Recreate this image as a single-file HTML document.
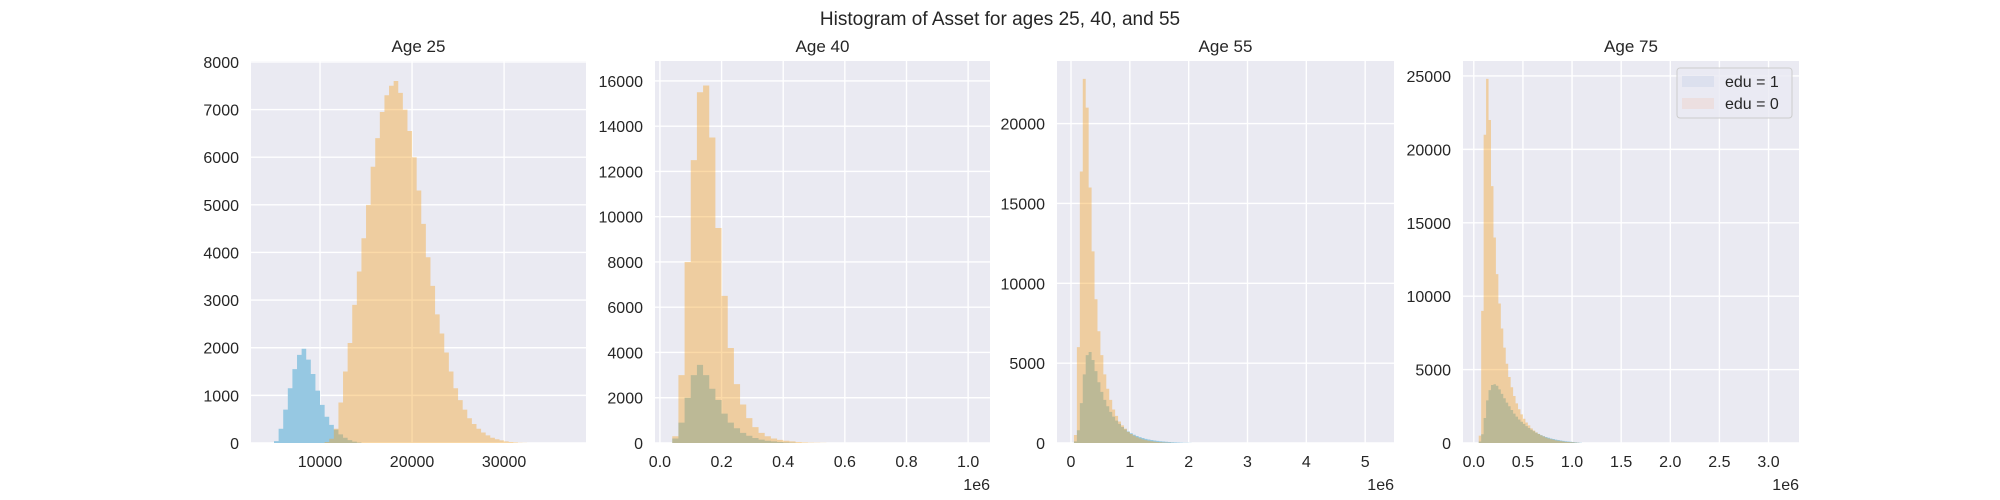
<!DOCTYPE html>
<html><head><meta charset="utf-8"><style>
html,body{margin:0;padding:0;background:#fff;}
svg{display:block;font-family:"Liberation Sans","DejaVu Sans",sans-serif;}
</style></head><body>
<svg id="fig" width="2000" height="500" viewBox="0 0 2000 500">
<text x="1000" y="25" text-anchor="middle" font-size="19" fill="#262626">Histogram of Asset for ages 25, 40, and 55</text>
</svg>
<script>
// ---- Data (bin starts, bin width, counts) ----
const p1Start0 = 10000, p1W = 500;
const p1Edu0 = [0,20,90,300,850,1500,2100,2900,3600,4300,5000,5800,6400,6950,7300,7500,7600,7350,7000,6550,6000,5300,4600,3900,3300,2700,2300,1900,1500,1150,900,700,520,400,300,220,160,110,80,55,35,20,12,6,3,0];
const p1Start1 = 4500;
const p1Edu1 = [0,40,300,700,1150,1550,1850,1980,1750,1450,1100,800,550,380,280,180,110,60,30,10,0];

const p2Start = 0.04, p2W = 0.02;
const p2Edu0 = [300,3000,8000,12500,15500,15800,13500,9500,6500,4200,2600,1700,1100,700,450,300,200,140,100,70,45,30,18,10,5,0];
const p2Edu1 = [200,900,2000,3000,3450,3000,2400,1900,1300,900,650,450,320,220,150,100,70,45,30,15,0];

const p3Start = 0.05, p3W = 0.05;
const p3Edu0 = [500,6000,17000,22800,21000,16000,12000,9000,7000,5500,4300,3400,2700,2100,1700,1350,1100,900,700,560,450,360,290,230,180,140,110,85,65,50,35,25,15,8,0];
const p3Edu1 = [100,800,2500,4300,5500,5700,5200,4500,3800,3200,2700,2300,1950,1650,1400,1200,1000,850,720,610,520,440,370,310,260,220,185,155,130,110,90,75,62,50,40,32,25,19,14,10,0];

const p4Start = 0.05, p4W = 0.025;
const p4Edu0 = [500,9000,21000,24800,22000,17500,14000,11500,9500,7800,6500,5400,4500,3800,3200,2700,2300,1950,1650,1400,1200,1000,850,720,610,520,440,370,310,260,220,180,150,125,100,80,65,50,40,25,15,0];
const p4Edu1 = [100,600,1700,2900,3600,3950,4000,3900,3650,3350,3050,2750,2500,2250,2000,1800,1600,1450,1300,1150,1020,900,800,700,620,540,470,410,360,310,270,230,200,170,145,120,100,85,70,50,35,20,0];

const titles = ["Age 25","Age 40","Age 55","Age 75"];
const xTicks1 = [10000,20000,30000];
const xTicks2 = [0,0.2,0.4,0.6,0.8,1.0];
const xTicks3 = [0,1,2,3,4,5];
const xTicks4 = [0,0.5,1.0,1.5,2.0,2.5,3.0];
const yTicks1 = [0,1000,2000,3000,4000,5000,6000,7000,8000];
const yTicks2 = [0,2000,4000,6000,8000,10000,12000,14000,16000];
const yTicks3 = [0,5000,10000,15000,20000];
const yTicks4 = [0,5000,10000,15000,20000,25000];

const NS = "http://www.w3.org/2000/svg";
const svg = document.getElementById('fig');
function mk(tag, attrs, parent){
  const e = document.createElementNS(NS, tag);
  for (const k in attrs) e.setAttribute(k, attrs[k]);
  (parent||svg).appendChild(e);
  return e;
}
const panels = [
  {l:251,r:586,xmin:2500,xmax:38900,ymax:8020,xt:xTicks1,yt:yTicks1,fmt:v=>String(v),e0:[p1Start0,p1W,p1Edu0],e1:[p1Start1,p1W,p1Edu1],sci:false},
  {l:655,r:990,xmin:-0.016,xmax:1.071,ymax:16880,xt:xTicks2,yt:yTicks2,fmt:v=>v.toFixed(1),e0:[p2Start,p2W,p2Edu0],e1:[p2Start,p2W,p2Edu1],sci:true},
  {l:1057,r:1394,xmin:-0.238,xmax:5.49,ymax:23920,xt:xTicks3,yt:yTicks3,fmt:v=>String(v),e0:[p3Start,p3W,p3Edu0],e1:[p3Start,p3W,p3Edu1],sci:true},
  {l:1463,r:1799,xmin:-0.11,xmax:3.31,ymax:26020,xt:xTicks4,yt:yTicks4,fmt:v=>v.toFixed(1),e0:[p4Start,p4W,p4Edu0],e1:[p4Start,p4W,p4Edu1],sci:true}
];
const plotTop = 61, plotBot = 443;
function stepPath(sx, sy, spec){
  const [start,w,counts] = spec;
  let d = "M"+sx(start).toFixed(2)+","+sy(0).toFixed(2);
  counts.forEach((c,i)=>{
    const x0 = sx(start+i*w), x1 = sx(start+(i+1)*w), y = sy(c);
    d += " L"+x0.toFixed(2)+","+y.toFixed(2)+" L"+x1.toFixed(2)+","+y.toFixed(2);
  });
  d += " L"+sx(start+counts.length*w).toFixed(2)+","+sy(0).toFixed(2)+" Z";
  return d;
}
panels.forEach((p,i)=>{
  const g = mk('g',{});
  
  
  const sx = v => p.l + (v-p.xmin)/(p.xmax-p.xmin)*(p.r-p.l);
  const sy = v => plotBot - v/p.ymax*(plotBot-plotTop);
  const bg = mk('rect',{x:p.l,y:plotTop,width:p.r-p.l,height:plotBot-plotTop,fill:'#eaeaf2'},g);
  
  
  p.xt.forEach(v=>{
    const ln = mk('line',{x1:sx(v),x2:sx(v),y1:plotTop,y2:plotBot,stroke:'#fff','stroke-width':1.4},g);
    
    
    const t = mk('text',{x:sx(v),y:467,'text-anchor':'middle','font-size':16,fill:'#262626'},g);
    t.textContent = p.fmt(v);
    
    
  });
  p.yt.forEach(v=>{
    const ln = mk('line',{x1:p.l,x2:p.r,y1:sy(v),y2:sy(v),stroke:'#fff','stroke-width':1.4},g);
    
    
    const t = mk('text',{x:p.l-12,y:sy(v)+6,'text-anchor':'end','font-size':16,fill:'#262626'},g);
    t.textContent = String(v);
    
    
  });
  const h1 = mk('path',{d:stepPath(sx,sy,p.e1),fill:'#96c8e2'},g);
  
  
  const h0 = mk('path',{d:stepPath(sx,sy,p.e0),fill:'#f5a225','fill-opacity':0.4},g);
  
  
  const tt = mk('text',{x:(p.l+p.r)/2,y:52,'text-anchor':'middle','font-size':17,fill:'#262626'},g);
  tt.textContent = titles[i];
  
  
  if (p.sci){
    const s = mk('text',{x:p.r,y:490,'text-anchor':'end','font-size':16,fill:'#262626'},g);
    s.textContent = '1e6';
    
    
  }
});
// legend
const lg = mk('g',{});


mk('rect',{x:1677,y:68,width:115,height:50,rx:3,fill:'#eaeaf2','fill-opacity':0.8,stroke:'#cccccc','stroke-width':1},lg);
const sw1 = mk('rect',{x:1682,y:76,width:32,height:11,fill:'#dce0ee'},lg);


const lt1 = mk('text',{x:1725,y:87,'font-size':16,fill:'#262626'},lg);
lt1.textContent = 'edu = 1';


const sw0 = mk('rect',{x:1682,y:98,width:32,height:11,fill:'#ecdfe0'},lg);


const lt0 = mk('text',{x:1725,y:109,'font-size':16,fill:'#262626'},lg);
lt0.textContent = 'edu = 0';


</script>
</body></html>
